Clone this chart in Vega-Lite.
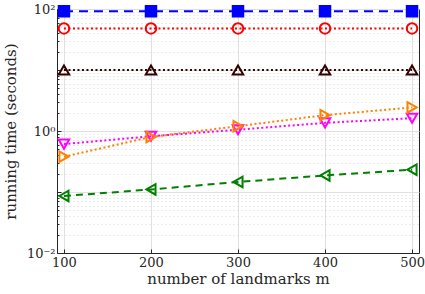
{
  "$schema": "https://vega.github.io/schema/vega-lite/v6.json",
  "autosize": "none",
  "width": 362,
  "height": 244,
  "padding": {"left": 57, "top": 9, "right": 6, "bottom": 41},
  "background": "white",
  "config": {
    "view": {"stroke": "#262626", "strokeWidth": 1},
    "font": "DejaVu Serif"
  },
  "data": {
    "values": [
      {"m": 100, "t": 92, "s": "blue"},
      {"m": 200, "t": 92, "s": "blue"},
      {"m": 300, "t": 92, "s": "blue"},
      {"m": 400, "t": 92, "s": "blue"},
      {"m": 500, "t": 92, "s": "blue"},
      {"m": 100, "t": 48, "s": "red"},
      {"m": 200, "t": 48, "s": "red"},
      {"m": 300, "t": 48, "s": "red"},
      {"m": 400, "t": 48, "s": "red"},
      {"m": 500, "t": 48, "s": "red"},
      {"m": 100, "t": 10, "s": "brown"},
      {"m": 200, "t": 10, "s": "brown"},
      {"m": 300, "t": 10, "s": "brown"},
      {"m": 400, "t": 10, "s": "brown"},
      {"m": 500, "t": 10, "s": "brown"},
      {"m": 100, "t": 0.61, "s": "magenta"},
      {"m": 200, "t": 0.82, "s": "magenta"},
      {"m": 300, "t": 1.05, "s": "magenta"},
      {"m": 400, "t": 1.36, "s": "magenta"},
      {"m": 500, "t": 1.62, "s": "magenta"},
      {"m": 100, "t": 0.38, "s": "orange"},
      {"m": 200, "t": 0.8, "s": "orange"},
      {"m": 300, "t": 1.2, "s": "orange"},
      {"m": 400, "t": 1.82, "s": "orange"},
      {"m": 500, "t": 2.43, "s": "orange"},
      {"m": 100, "t": 0.086, "s": "green"},
      {"m": 200, "t": 0.11, "s": "green"},
      {"m": 300, "t": 0.146, "s": "green"},
      {"m": 400, "t": 0.187, "s": "green"},
      {"m": 500, "t": 0.232, "s": "green"}
    ]
  },
  "encoding": {
    "x": {
      "field": "m", "type": "quantitative",
      "scale": {"domain": [92, 508], "nice": false, "zero": false},
      "axis": {
        "values": [100, 200, 300, 400, 500],
        "title": "number of landmarks m",
        "titleFont": "DejaVu Serif", "titleFontSize": 15, "titleFontWeight": "normal",
        "titleColor": "#262626", "titlePadding": 2,
        "labelFont": "DejaVu Serif", "labelFontSize": 13, "labelColor": "#262626",
        "labelPadding": 7,
        "domainColor": "#262626", "tickColor": "#262626", "tickSize": -4,
        "grid": true, "gridColor": "#e0e0e0", "gridWidth": 1
      }
    },
    "y": {
      "field": "t", "type": "quantitative",
      "scale": {"type": "log", "domain": [0.01, 100], "nice": false},
      "axis": {
        "values": [0.01, 0.02, 0.03, 0.04, 0.05, 0.06, 0.07, 0.08, 0.09, 0.1, 0.2, 0.3, 0.4, 0.5, 0.6, 0.7, 0.8, 0.9, 1, 2, 3, 4, 5, 6, 7, 8, 9, 10, 20, 30, 40, 50, 60, 70, 80, 90, 100],
        "labelExpr": "datum.value == 100 ? '10²' : (datum.value == 1 ? '10⁰' : (datum.value == 0.01 ? '10⁻²' : ''))",
        "title": "running time (seconds)",
        "titleFont": "DejaVu Serif", "titleFontSize": 15, "titleFontWeight": "normal",
        "titleColor": "#262626", "titlePadding": 8,
        "labelFont": "DejaVu Serif", "labelFontSize": 13, "labelColor": "#262626",
        "labelPadding": 6,
        "domainColor": "#262626", "tickColor": "#262626",
        "tickSize": {"condition": {"test": "indexof([0.01,0.1,1,10,100], datum.value) >= 0", "value": -4}, "value": -2},
        "grid": true,
        "gridColor": {"condition": {"test": "indexof([0.01,0.1,1,10,100], datum.value) >= 0", "value": "#e0e0e0"}, "value": "#d8d8d8"},
        "gridDash": {"condition": {"test": "indexof([0.01,0.1,1,10,100], datum.value) >= 0", "value": []}, "value": [1, 3]},
        "gridWidth": 1
      }
    },
    "color": {
      "field": "s", "type": "nominal", "legend": null,
      "scale": {
        "domain": ["blue", "red", "brown", "magenta", "orange", "green"],
        "range": ["#0000ff", "#ff0000", "#330000", "#ff00ff", "#ff8000", "#008000"]
      }
    }
  },
  "layer": [
    {
      "mark": {"type": "line", "strokeWidth": 2},
      "encoding": {
        "detail": {"field": "s"},
        "strokeDash": {
          "field": "s", "type": "nominal", "legend": null,
          "scale": {
            "domain": ["blue", "red", "brown", "magenta", "orange", "green"],
            "range": [[9, 6], [2, 2.5], [2, 2.5], [2, 2.5], [2, 2.5], [7, 5]]
          }
        },
        "strokeWidth": {
          "field": "s", "type": "nominal", "legend": null,
          "scale": {
            "domain": ["blue", "red", "brown", "magenta", "orange", "green"],
            "range": [3, 2, 2, 2, 2, 2]
          }
        }
      }
    },
    {
      "mark": {"type": "point", "filled": false, "strokeWidth": 2, "size": 110, "opacity": 1},
      "encoding": {
        "shape": {
          "field": "s", "type": "nominal", "legend": null,
          "scale": {
            "domain": ["blue", "red", "brown", "magenta", "orange", "green"],
            "range": ["square", "circle", "triangle-up", "triangle-down", "triangle-right", "triangle-left"]
          }
        },
        "fill": {
          "condition": {"test": "datum.s == 'blue'", "value": "#0000ff"},
          "value": "transparent"
        }
      }
    }
  ]
}
